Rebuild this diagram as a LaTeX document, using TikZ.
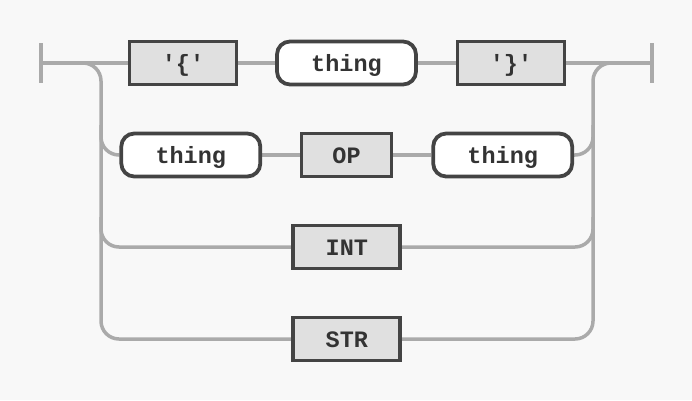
\documentclass[tikz,border=0pt]{standalone}
\usepackage{fontspec}
\setmonofont{Liberation Mono}
\usetikzlibrary{backgrounds}
\definecolor{bg}{HTML}{F8F8F8}
\definecolor{track}{HTML}{AAAAAA}
\definecolor{edge}{HTML}{444444}
\definecolor{ink}{HTML}{333333}
\definecolor{termfill}{HTML}{E0E0E0}
\tikzset{
  track/.style={draw=track, line width=3.5pt},
  term/.style={draw=edge, fill=termfill, line width=3.8pt, minimum height=43pt, inner sep=0pt, text height=17pt, text depth=0pt, text=ink, font=\ttfamily\bfseries\fontsize{23.5}{23.5}\selectfont},
  nonterm/.style={term, fill=white, rounded corners=13pt},
}
\begin{document}
\begin{tikzpicture}[x=1pt,y=-1pt]
\useasboundingbox (0,0) rectangle (692,400);
% nodes
\node[term, minimum width=107pt] (lb) at (183,63) {'\{'};
\node[nonterm, minimum width=139pt] (t1) at (346.5,63) {thing};
\node[term, minimum width=107pt] (rb) at (511,63) {'\}'};
\node[nonterm, minimum width=139pt] (t2) at (190.8,155) {thing};
\node[term, minimum width=90pt] (op) at (346.5,155) {OP};
\node[nonterm, minimum width=139pt] (t3) at (502.7,155) {thing};
\node[term, minimum width=107pt] (int) at (346.8,247) {INT};
\node[term, minimum width=107pt] (str) at (346.8,339) {STR};
% start / end
\coordinate (s) at (41,63);
\coordinate (e) at (652,63);
\coordinate (L) at (101,63);
\coordinate (R) at (593,63);
\begin{scope}[on background layer]
\fill[bg] (0,0) rectangle (692,400);
\draw[track] (41,43) -- (41,83);
\draw[track] (652,43) -- (652,83);
% main row
\draw[track] (s) -- (lb.west);
\draw[track] (lb.east) -- (t1.west);
\draw[track] (t1.east) -- (rb.west);
\draw[track] (rb.east) -- (e);
% left split
\draw[track, rounded corners=18pt] (s) -- (L) -- (L|-str.west) -- (str.west);
\draw[track, rounded corners=18pt] ([yshift=30pt]L|-t2.west) -- (L|-t2.west) -- (t2.west);
\draw[track, rounded corners=18pt] ([yshift=30pt]L|-int.west) -- (L|-int.west) -- (int.west);
% row 2
\draw[track] (t2.east) -- (op.west);
\draw[track] (op.east) -- (t3.west);
% right join
\draw[track, rounded corners=18pt] (str.east) -- (R|-str.east) -- (R) -- (e);
\draw[track, rounded corners=18pt] (t3.east) -- (R|-t3.east) -- ([yshift=30pt]R|-t3.east);
\draw[track, rounded corners=18pt] (int.east) -- (R|-int.east) -- ([yshift=30pt]R|-int.east);
\end{scope}
\end{tikzpicture}
\end{document}
